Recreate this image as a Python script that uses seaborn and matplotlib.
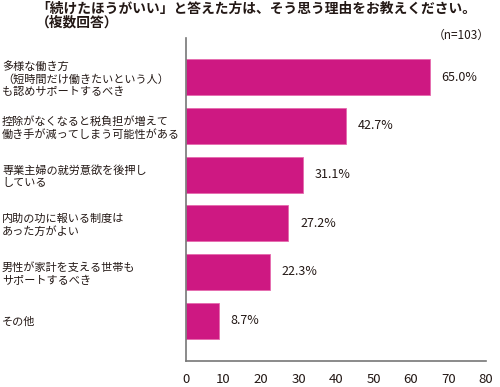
import matplotlib
matplotlib.use("Agg")
import matplotlib.pyplot as plt
import seaborn as sns
import pandas as pd

categories = [
    "多様な働き方\n（短時間だけ働きたいという人）\nも認めサポートするべき",
    "控除がなくなると税負担が増えて\n働き手が減ってしまう可能性がある",
    "専業主婦の就労意欲を後押し\nしている",
    "内助の功に報いる制度は\nあった方がよい",
    "男性が家計を支える世帯も\nサポートするべき",
    "その他",
]
values = [65.0, 42.7, 31.1, 27.2, 22.3, 8.7]
value_labels = ["65.0%", "42.7%", "31.1%", "27.2%", "22.3%", "8.7%"]
x_ticks = [0, 10, 20, 30, 40, 50, 60, 70, 80]
title = "「続けたほうがいい」と答えた方は、そう思う理由をお教えください。\n（複数回答）"
note = "（n=103）"

sns.set_style("white")
plt.rcParams['font.family'] = ['Noto Sans CJK JP', 'DejaVu Sans']

df = pd.DataFrame({"cat": categories, "val": values})

fig = plt.figure(figsize=(5.0, 3.87), dpi=100)
ax = fig.add_axes([0.372, 0.0672, 0.6, 0.835])

sns.barplot(data=df, y="cat", x="val", orient="h", color="#CE1882",
            width=0.74, edgecolor="#E56AAE", linewidth=0.6, ax=ax, saturation=1)

ax.set_xlim(0, 80)
ax.set_ylim(5.83, -0.81)
ax.set_xticks(x_ticks)
ax.set_xlabel("")
ax.set_ylabel("")

for i, (v, lab) in enumerate(zip(values, value_labels)):
    ax.text(v + 3.2, i, lab, va="center", ha="left", fontsize=9, color="#231815")

for s in ["top", "right"]:
    ax.spines[s].set_visible(False)
for s in ["left", "bottom"]:
    ax.spines[s].set_color("#777777")
    ax.spines[s].set_linewidth(1.2)

ax.tick_params(axis="x", direction="in", length=4.5, width=0.9, color="#333333",
               labelsize=9.5, pad=9, labelcolor="#231815")
ax.tick_params(axis="y", length=0, pad=132.5, labelsize=8, labelcolor="#231815")
for t in ax.get_yticklabels():
    t.set_horizontalalignment("left")
    t.set_linespacing(1.25)

fig.text(0.072, 0.996, title, ha="left", va="top", fontsize=9.9,
         fontweight="bold", color="#231815", linespacing=1.0)
fig.text(0.98, 0.908, note, ha="right", va="center", fontsize=8.5, color="#231815")

fig.savefig("out.png", dpi=100)
